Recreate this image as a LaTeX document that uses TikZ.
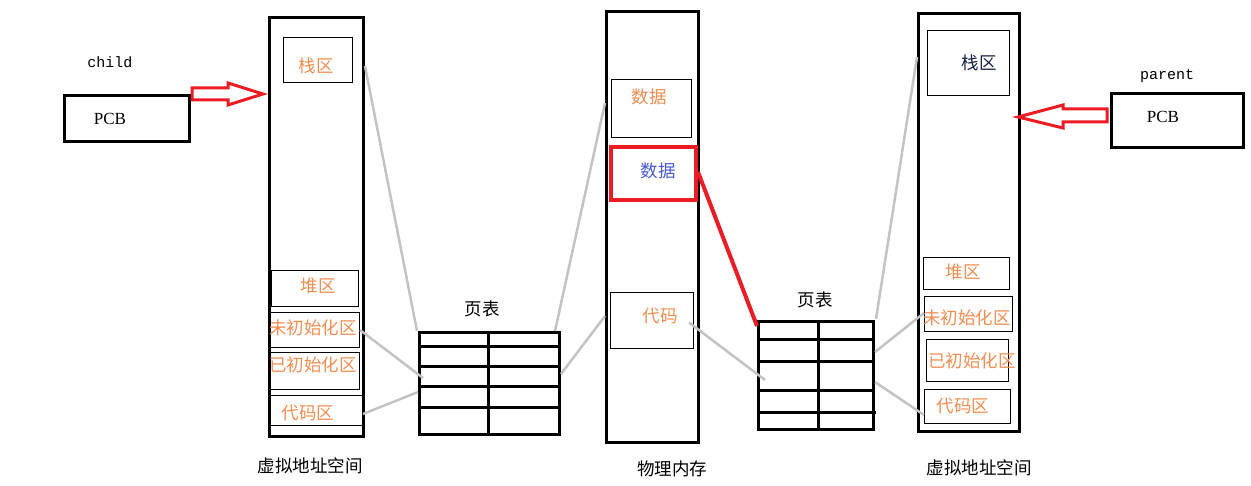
\documentclass[tikz,border=0pt]{standalone}
\usepackage{fontspec}
\setmainfont{Liberation Serif}
\newfontfamily\cjk{Noto Sans CJK SC}
\newfontfamily\monof{Liberation Mono}
\usetikzlibrary{calc}
\definecolor{otxt}{RGB}{242,140,80}
\definecolor{btxt}{RGB}{70,90,210}
\definecolor{dtxt}{RGB}{20,30,70}
\definecolor{redA}{RGB}{237,28,36}
\definecolor{grayL}{RGB}{195,195,195}
\begin{document}
\begin{tikzpicture}[x=1pt,y=-1pt,
  col/.style={draw, line width=3pt, inner sep=0pt, anchor=north west},
  seg/.style={draw, line width=1pt, inner sep=0pt, anchor=north west},
  cn/.style={font=\cjk\fontsize{17.5}{17.5}\selectfont, inner sep=0pt},
  on/.style={cn, text=otxt},
  lat/.style={font=\fontsize{17}{17}\selectfont, inner sep=0pt},
  mn/.style={font=\monof\fontsize{15}{15}\selectfont, inner sep=0pt},
  gl/.style={draw=grayL, line width=2.5pt},
  tl/.style={line width=3pt},
  hollow/.style={draw=redA, line width=3pt, line join=miter}]
\useasboundingbox (0,0) rectangle (1251,486);
% left side
\node[col, minimum width=125pt, minimum height=46pt] (lpcb) at (63,94) {};
\node[lat] (lpcbt) at (110,119) {PCB};
\node[mn] (child) at (110,62) {child};
\node[col, minimum width=94pt, minimum height=419pt] (lvas) at (268,16) {};
\node[seg, minimum width=69pt, minimum height=45pt] (lstack) at (283,37) {};
\node[seg, minimum width=87pt, minimum height=36pt] (lheap) at (271,270) {};
\node[seg, minimum width=91pt, minimum height=35pt] (luninit) at (268,312) {};
\node[seg, minimum width=90pt, minimum height=37pt] (linit) at (269,352) {};
\node[seg, minimum width=94pt, minimum height=30pt] (lcode) at (268,395) {};
\node[on] at (316,66) {栈区};
\node[on] at (318,286) {堆区};
\node[on] at (313,328) {未初始化区};
\node[on] at (313,365) {已初始化区};
\node[on] at (308,413) {代码区};
\node[cn] (lvlab) at (310,466) {虚拟地址空间};
% red arrow left
\draw[hollow] (192,88) -- (228,88) -- (228,83) -- (263,94) -- (228,105) -- (228,100) -- (192,100) -- cycle;
% left page table
\node[col, minimum width=140pt, minimum height=102pt] (ltab) at (418,331) {};
\node[cn] (ltlab) at (482,309) {页表};
\foreach \yy/\xe in {347/558,367/558,387/558,407/561}
  \draw[tl] (418,\yy) -- (\xe,\yy);
\draw[tl] (488,331) -- (488,436);
% physical memory
\node[col, minimum width=92pt, minimum height=431pt] (pm) at (605,10) {};
\node[seg, minimum width=80pt, minimum height=58pt] (pdata1) at (611,79) {};
\node[draw=redA, line width=4pt, inner sep=0pt, anchor=north west, minimum width=85pt, minimum height=53pt] (pdata2) at (609,145) {};
\node[seg, minimum width=83pt, minimum height=56pt] (pcode) at (610,292) {};
\node[on] at (649,97) {数据};
\node[cn, text=btxt] at (658,171) {数据};
\node[on] at (660,316) {代码};
\node[cn] (pmlab) at (672,469) {物理内存};
% right page table
\node[col, minimum width=115pt, minimum height=108pt] (rtab) at (757,320) {};
\node[cn] (rtlab) at (815,300) {页表};
\foreach \yy/\xe in {340/874,362/872,391/872,412/876}
  \draw[tl] (757,\yy) -- (\xe,\yy);
\draw[tl] (818,320) -- (818,428);
% right side
\node[col, minimum width=101pt, minimum height=418pt] (rvas) at (917,12) {};
\node[seg, minimum width=82pt, minimum height=65pt] (rstack) at (927,30) {};
\node[seg, minimum width=86pt, minimum height=32pt] (rheap) at (923,257) {};
\node[seg, minimum width=88pt, minimum height=35pt] (runinit) at (924,296) {};
\node[seg, minimum width=82pt, minimum height=42pt] (rinit) at (926,339) {};
\node[seg, minimum width=86pt, minimum height=34pt] (rcode) at (924,389) {};
\node[cn, text=dtxt] at (979,63) {栈区};
\node[on] at (963,272) {堆区};
\node[on] at (967,318) {未初始化区};
\node[on] at (972,361) {已初始化区};
\node[on] at (963,406) {代码区};
\node[cn] (rvlab) at (979,468) {虚拟地址空间};
\node[col, minimum width=132pt, minimum height=54pt] (rpcb) at (1110,92) {};
\node[lat] (rpcbt) at (1163,117) {PCB};
\node[mn] (parent) at (1167,76) {parent};
% red arrow right
\draw[hollow] (1107,109) -- (1063,109) -- (1063,105) -- (1018,117) -- (1063,128) -- (1063,122) -- (1107,122) -- cycle;
% gray connectors
\draw[gl] (lvas.east |- 0,66) -- ($(ltab.north west)+(-1,0)$);
\draw[gl] ($(ltab.north east)+(-6,0)$) -- (pm.west |- 0,103);
\draw[gl] (luninit.east) -- ($(ltab.north west)+(5,47)$);
\draw[gl] (lcode.east |- 0,414) -- (ltab.west |- 0,392);
\draw[gl] (ltab.east |- 0,374) -- (pm.west |- 0,316);
\draw[gl] ($(pcode.east)+(-5,2)$) -- ($(rtab.north west)+(8,60)$);
\draw[gl] ($(rtab.north east)+(1,-1)$) -- (rvas.west |- 0,57);
\draw[gl] (rtab.east |- 0,352) -- (runinit.west |- 0,313);
\draw[gl] (rtab.east |- 0,382) -- (rcode.west |- 0,415);
% red connector
\draw[draw=redA, line width=4pt] (pdata2.east |- 0,172) -- ($(rtab.north west)+(0,6)$);
\end{tikzpicture}
\end{document}
